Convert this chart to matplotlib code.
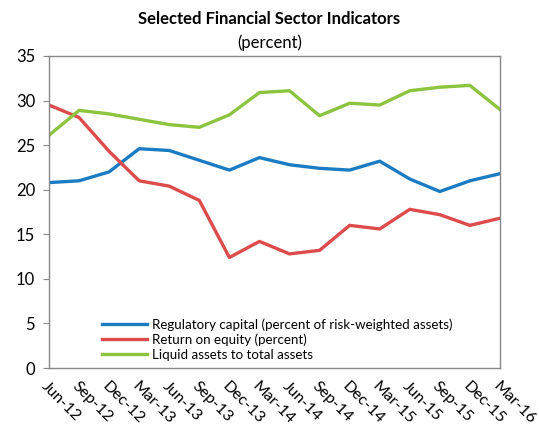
import matplotlib
matplotlib.use("Agg")
import matplotlib.pyplot as plt

plt.rcParams['font.family'] = ['Lato', 'DejaVu Sans']

quarters = ["Jun-12", "Sep-12", "Dec-12", "Mar-13", "Jun-13", "Sep-13", "Dec-13", "Mar-14",
            "Jun-14", "Sep-14", "Dec-14", "Mar-15", "Jun-15", "Sep-15", "Dec-15", "Mar-16"]
regulatory_capital = [20.8, 21.0, 22.0, 24.6, 24.4, 23.3, 22.2, 23.6, 22.8, 22.4, 22.2, 23.2, 21.2, 19.8, 21.0, 21.8]
return_on_equity = [29.5, 28.1, 24.3, 21.0, 20.4, 18.8, 12.4, 14.2, 12.8, 13.2, 16.0, 15.6, 17.8, 17.2, 16.0, 16.8]
liquid_assets = [26.1, 28.9, 28.5, 27.9, 27.3, 27.0, 28.4, 30.9, 31.1, 28.3, 29.7, 29.5, 31.1, 31.5, 31.7, 29.0]
yticks = [0, 5, 10, 15, 20, 25, 30, 35]

fig = plt.figure(figsize=(5.39, 4.32), dpi=100)
ax = fig.add_axes([0.0909, 0.1481, 0.8367, 0.7223])

x = list(range(len(quarters)))
ax.plot(x, regulatory_capital, color='#1c7cc3', lw=2.4, label='Regulatory capital (percent of risk-weighted assets)')
ax.plot(x, return_on_equity, color='#de4b4b', lw=2.4, label='Return on equity (percent)')
ax.plot(x, liquid_assets, color='#8cc43f', lw=2.4, label='Liquid assets to total assets')

ax.set_xlim(0, len(quarters) - 1)
ax.set_ylim(0, 35)
ax.set_yticks(yticks)
ax.set_xticks(x)
ax.set_xticklabels(quarters, rotation=-45, ha='left', va='top', rotation_mode='anchor', fontsize=11.5)
ax.tick_params(axis='x', length=0, pad=8)
ax.tick_params(axis='y', length=4, color='#888888', labelsize=12, pad=6)
for s in ax.spines.values():
    s.set_color('#888888')
    s.set_linewidth(1.0)

fig.text(0.5, 0.957, 'Selected Financial Sector Indicators', ha='center', va='center',
         fontsize=12, fontweight='bold')
fig.text(0.5, 0.902, '(percent)', ha='center', va='center', fontsize=12)

ax.legend(loc='lower left', bbox_to_anchor=(0.09, -0.015), frameon=False, fontsize=9.6,
          handlelength=3.4, handletextpad=0.4, labelspacing=0.2)

fig.savefig('out.png', dpi=100)
